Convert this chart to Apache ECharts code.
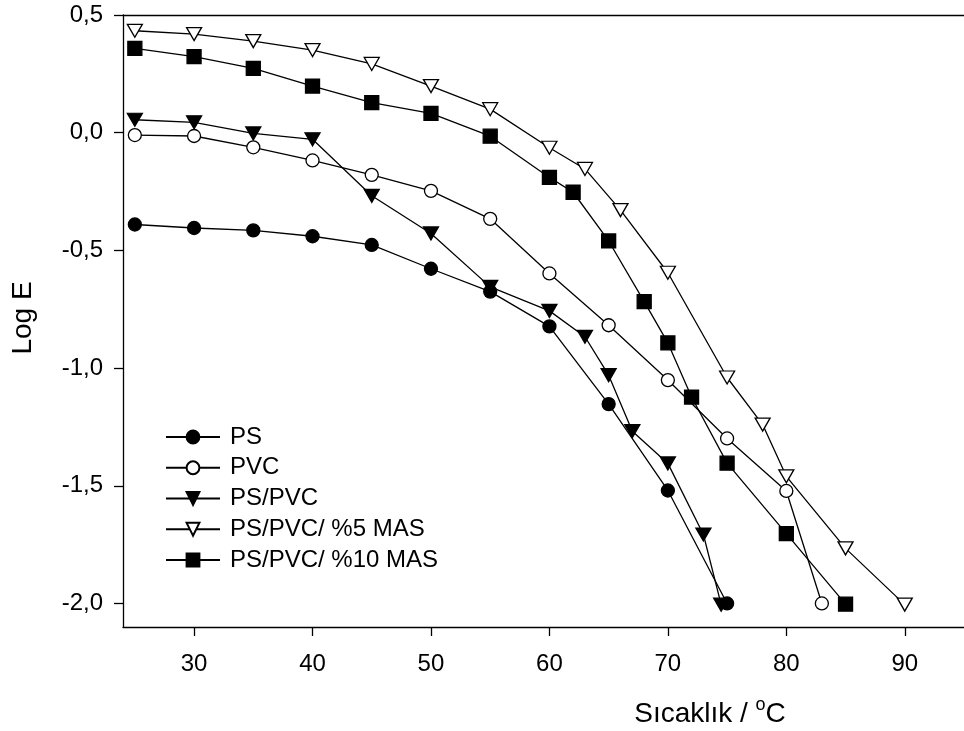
<!DOCTYPE html>
<html>
<head>
<meta charset="utf-8">
<script src="https://cdn.jsdelivr.net/npm/echarts@6/dist/echarts.min.js"></script>
<style>
html,body{margin:0;padding:0;background:#fff;}
#chart{width:964px;height:731px;}
</style>
</head>
<body>
<div id="chart"></div>
<script>
// ---- data ----
const psX = [25,30,35,40,45,50,55,60,65,70,75];
const psY = [-0.39,-0.405,-0.415,-0.44,-0.477,-0.578,-0.675,-0.823,-1.153,-1.52,-2.0];

const pvcX = [25,30,35,40,45,50,55,60,65,70,75,80,83];
const pvcY = [-0.01,-0.014,-0.062,-0.118,-0.179,-0.247,-0.366,-0.598,-0.818,-1.051,-1.299,-1.522,-2.0];

const blendX = [25,30,35,40,45,50,55,60,63,65,67,70,73,74.5];
const blendY = [0.055,0.044,-0.003,-0.028,-0.268,-0.428,-0.655,-0.757,-0.867,-1.03,-1.268,-1.405,-1.707,-2.005];

const mas5X = [25,30,35,40,45,50,55,60,63,66,70,75,78,80,85,90];
const mas5Y = [0.433,0.419,0.389,0.351,0.292,0.198,0.1,-0.064,-0.154,-0.329,-0.595,-1.04,-1.24,-1.46,-1.766,-2.005];

const mas10X = [25,30,35,40,45,50,55,60,62,65,68,70,72,75,80,85];
const mas10Y = [0.358,0.323,0.273,0.198,0.128,0.082,-0.015,-0.19,-0.253,-0.46,-0.718,-0.893,-1.123,-1.404,-1.703,-2.003];

const seriesNames = ['PS','PVC','PS/PVC','PS/PVC/ %5 MAS','PS/PVC/ %10 MAS'];
const xTicks = [30,40,50,60,70,80,90];
const yTicks = [-2.0,-1.5,-1.0,-0.5,0.0,0.5];
const xTitle = 'Sıcaklık / ';
const yTitle = 'Log E';

function pairs(xs, ys){ return xs.map((x,i)=>[x, ys[i]]); }

const FONT = '"Liberation Sans", Arial, sans-serif';
const LW = 1.3;

function mkSeries(name, xs, ys, symbol, size, fill, rotate){
  return {
    name: name,
    type: 'line',
    data: pairs(xs, ys),
    symbol: symbol,
    symbolSize: size,
    symbolRotate: rotate || 0,
    showAllSymbol: true,
    lineStyle: {color:'#000', width: LW},
    itemStyle: {color: fill, borderColor:'#000', borderWidth: LW},
    emphasis: {disabled: true},
    animation: false
  };
}

const chart = echarts.init(document.getElementById('chart'), null, {renderer:'canvas'});
chart.setOption({
  backgroundColor: '#fff',
  animation: false,
  textStyle: {fontFamily: FONT},
  grid: {left: 123, top: 15, width: 850, height: 612, containLabel: false},
  xAxis: [{
    type: 'value', min: 24, max: 95, position: 'bottom',
    axisLine: {show: true, onZero: false, lineStyle: {color:'#000', width: LW}},
    axisTick: {show: true, inside: false, length: 9, customValues: xTicks, lineStyle: {color:'#000', width: LW}},
    axisLabel: {show: true, customValues: xTicks, margin: 25, color:'#000', fontSize: 24, fontFamily: FONT},
    splitLine: {show: false}
  },{
    type: 'value', min: 24, max: 95, position: 'top',
    axisLine: {show: true, onZero: false, lineStyle: {color:'#000', width: LW}},
    axisTick: {show: false}, axisLabel: {show: false}, splitLine: {show: false}
  }],
  yAxis: {
    type: 'value', min: -2.1, max: 0.5,
    axisLine: {show: true, onZero: false, lineStyle: {color:'#000', width: LW}},
    axisTick: {show: true, inside: false, length: 9, customValues: yTicks, lineStyle: {color:'#000', width: LW}},
    axisLabel: {show: true, customValues: yTicks, margin: 20, color:'#000', fontSize: 24, fontFamily: FONT,
      formatter: v => (Math.abs(v) < 1e-9 ? 0 : v).toFixed(1).replace('.', ',')},
    splitLine: {show: false}
  },
  legend: {
    show: true,
    orient: 'vertical',
    left: 160, top: 420,
    itemWidth: 54, itemHeight: 16, itemGap: 6.75,
    textStyle: {color:'#000', fontSize: 24, fontFamily: FONT, padding: [0,0,0,5]},
    data: seriesNames
  },
  series: [
    mkSeries(seriesNames[0], psX, psY, 'circle', 13, '#000'),
    mkSeries(seriesNames[1], pvcX, pvcY, 'circle', 13, '#fff'),
    mkSeries(seriesNames[2], blendX, blendY, 'triangle', [15,13], '#000', 180),
    mkSeries(seriesNames[3], mas5X, mas5Y, 'triangle', [15,13], '#fff', 180),
    mkSeries(seriesNames[4], mas10X, mas10Y, 'rect', 14, '#000')
  ],
  graphic: [
    {
      type: 'text', x: 23, y: 318, rotation: Math.PI/2,
      style: {text: yTitle, fill:'#000', font: '28px ' + FONT, textAlign:'center', textVerticalAlign:'middle'}
    },
    {
      type: 'text', x: 710, y: 712,
      style: {
        text: '{a|' + xTitle + '}{s|o}{a|C}',
        textAlign: 'center', textVerticalAlign: 'middle',
        rich: {
          a: {fontSize: 28, fontFamily: FONT, fill:'#000', color:'#000', lineHeight: 32, verticalAlign:'bottom'},
          s: {fontSize: 18, fontFamily: FONT, fill:'#000', color:'#000', lineHeight: 32, verticalAlign:'top', padding:[0,0,0,0]}
        }
      }
    }
  ]
});
</script>
</body>
</html>
